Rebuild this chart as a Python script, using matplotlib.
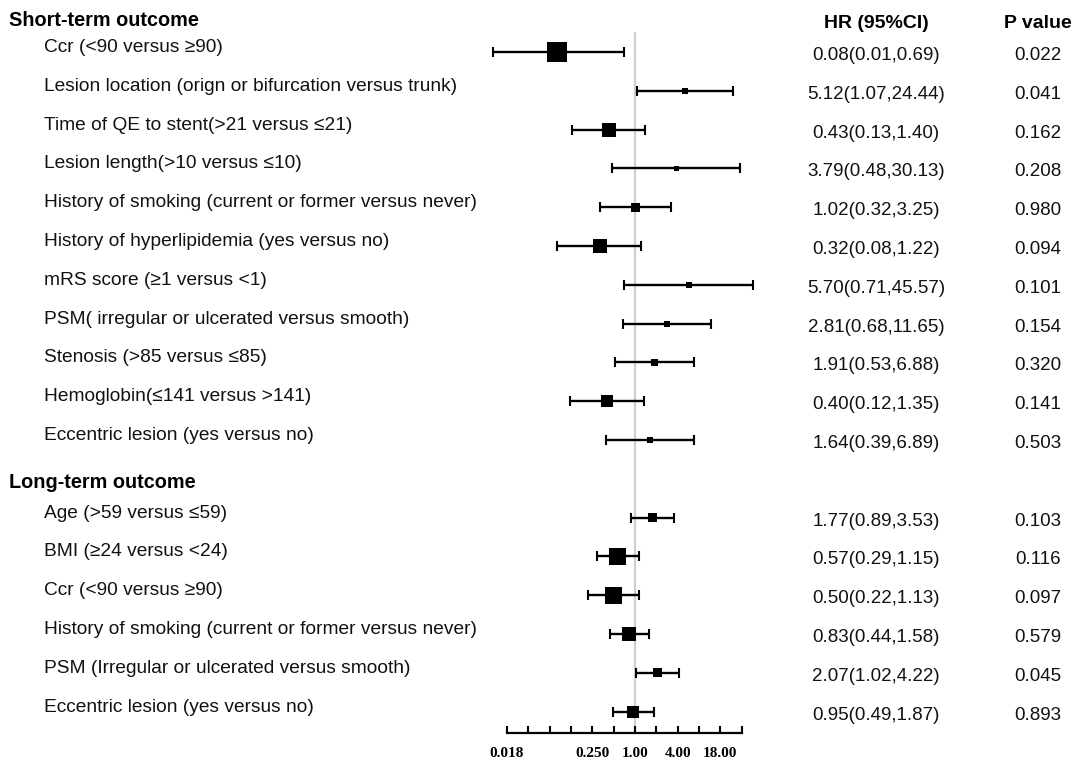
import numpy as np
import matplotlib.pyplot as plt
import matplotlib.transforms as mtransforms

# short-term outcome
short_labels = ["Ccr (<90 versus \u226590)",
                "Lesion location (orign or bifurcation versus trunk)",
                "Time of QE to stent(>21 versus \u226421)",
                "Lesion length(>10 versus \u226410)",
                "History of smoking (current or former versus never)",
                "History of hyperlipidemia (yes versus no)",
                "mRS score (\u22651 versus <1)",
                "PSM( irregular or ulcerated versus smooth)",
                "Stenosis (>85 versus \u226485)",
                "Hemoglobin(\u2264141 versus >141)",
                "Eccentric lesion (yes versus no)"]
short_hr = [0.08, 5.12, 0.43, 3.79, 1.02, 0.32, 5.70, 2.81, 1.91, 0.40, 1.64]
short_lo = [0.01, 1.07, 0.13, 0.48, 0.32, 0.08, 0.71, 0.68, 0.53, 0.12, 0.39]
short_hi = [0.69, 24.44, 1.40, 30.13, 3.25, 1.22, 45.57, 11.65, 6.88, 1.35, 6.89]
short_p = ["0.022", "0.041", "0.162", "0.208", "0.980", "0.094", "0.101",
           "0.154", "0.320", "0.141", "0.503"]
short_box = [20, 6, 14, 5, 9, 14, 6, 6, 7, 12, 6]

# long-term outcome
long_labels = ["Age (>59 versus \u226459)",
               "BMI (\u226524 versus <24)",
               "Ccr (<90 versus \u226590)",
               "History of smoking (current or former versus never)",
               "PSM (Irregular or ulcerated versus smooth)",
               "Eccentric lesion (yes versus no)"]
long_hr = [1.77, 0.57, 0.50, 0.83, 2.07, 0.95]
long_lo = [0.89, 0.29, 0.22, 0.44, 1.02, 0.49]
long_hi = [3.53, 1.15, 1.13, 1.58, 4.22, 1.87]
long_p = ["0.103", "0.116", "0.097", "0.579", "0.045", "0.893"]
long_box = [9, 17, 17, 14, 9, 12]

tick_vals = [2.0 ** k for k in range(-6, 6)]
tick_text = {-6: "0.018", -2: "0.250", 0: "1.00", 2: "4.00", 4: "18.00"}

labels = short_labels + long_labels
hr = np.array(short_hr + long_hr)
lo = np.array(short_lo + long_lo)
hi = np.array(short_hi + long_hi)
pvals = short_p + long_p
box = np.array(short_box + long_box)
rows = np.array(list(range(1, 12)) + list(range(13, 19)))

W, H = 1084, 764
fig = plt.figure(figsize=(W / 100, H / 100), dpi=100)
ax = fig.add_axes([507 / W, 1 - 733 / H, (741.7 - 507) / W, (733 - 32) / H])
ax.set_xscale('log', base=2)
ax.set_xlim(2.0 ** -6, 2.0 ** 5)
ax.set_ylim(18.55, 0.485)

ax.axvline(1, color='#cfcfcf', lw=1.6, zorder=0)
ax.errorbar(hr, rows, xerr=[hr - lo, hi - hr], fmt='none', ecolor='black',
            elinewidth=1.7, capsize=3.6, capthick=1.5, clip_on=False, zorder=2)
ax.scatter(hr, rows, marker='s', s=(box * 0.72) ** 2, color='black',
           linewidths=0, zorder=3, clip_on=False)

for s in ['top', 'left', 'right']:
    ax.spines[s].set_visible(False)
ax.spines['bottom'].set_linewidth(1.6)
ax.set_yticks([])
ax.set_xticks(tick_vals)
ax.set_xticklabels([tick_text.get(k, "") for k in range(-6, 6)],
                   fontfamily='Liberation Serif', fontweight='bold', fontsize=11)
ax.minorticks_off()
ax.tick_params(axis='x', direction='in', length=5, width=1.5, pad=10)


def shift(px):
    return mtransforms.ScaledTranslation(0, -px / 100, fig.dpi_scale_trans)


base = mtransforms.blended_transform_factory(fig.transFigure, ax.transData)
sans = 'Liberation Sans'

ax.text(9 / W, 0, "Short-term outcome", transform=base + shift(13),
        fontfamily=sans, fontweight='bold', fontsize=14.3, va='baseline')
ax.text(9 / W, 12, "Long-term outcome", transform=base + shift(9),
        fontfamily=sans, fontweight='bold', fontsize=14.3, va='baseline')
ax.text(876 / W, 0, "HR (95%CI)", transform=base + shift(15),
        fontfamily=sans, fontweight='bold', fontsize=14, va='baseline', ha='center')
ax.text(1038 / W, 0, "P value", transform=base + shift(15),
        fontfamily=sans, fontweight='bold', fontsize=14, va='baseline', ha='center')

for lab, r, h, l, u, p in zip(labels, rows, hr, lo, hi, pvals):
    ax.text(44 / W, r, lab, transform=base + shift(0), fontfamily=sans,
            fontsize=13.8, va='baseline', color='#111111')
    ax.text(876 / W, r, f"{h:.2f}({l:.2f},{u:.2f})", transform=base + shift(8),
            fontfamily=sans, fontsize=13.5, va='baseline', ha='center', color='#111111')
    ax.text(1038 / W, r, p, transform=base + shift(8), fontfamily=sans,
            fontsize=13.5, va='baseline', ha='center', color='#111111')

fig.savefig("out.png", dpi=100)
